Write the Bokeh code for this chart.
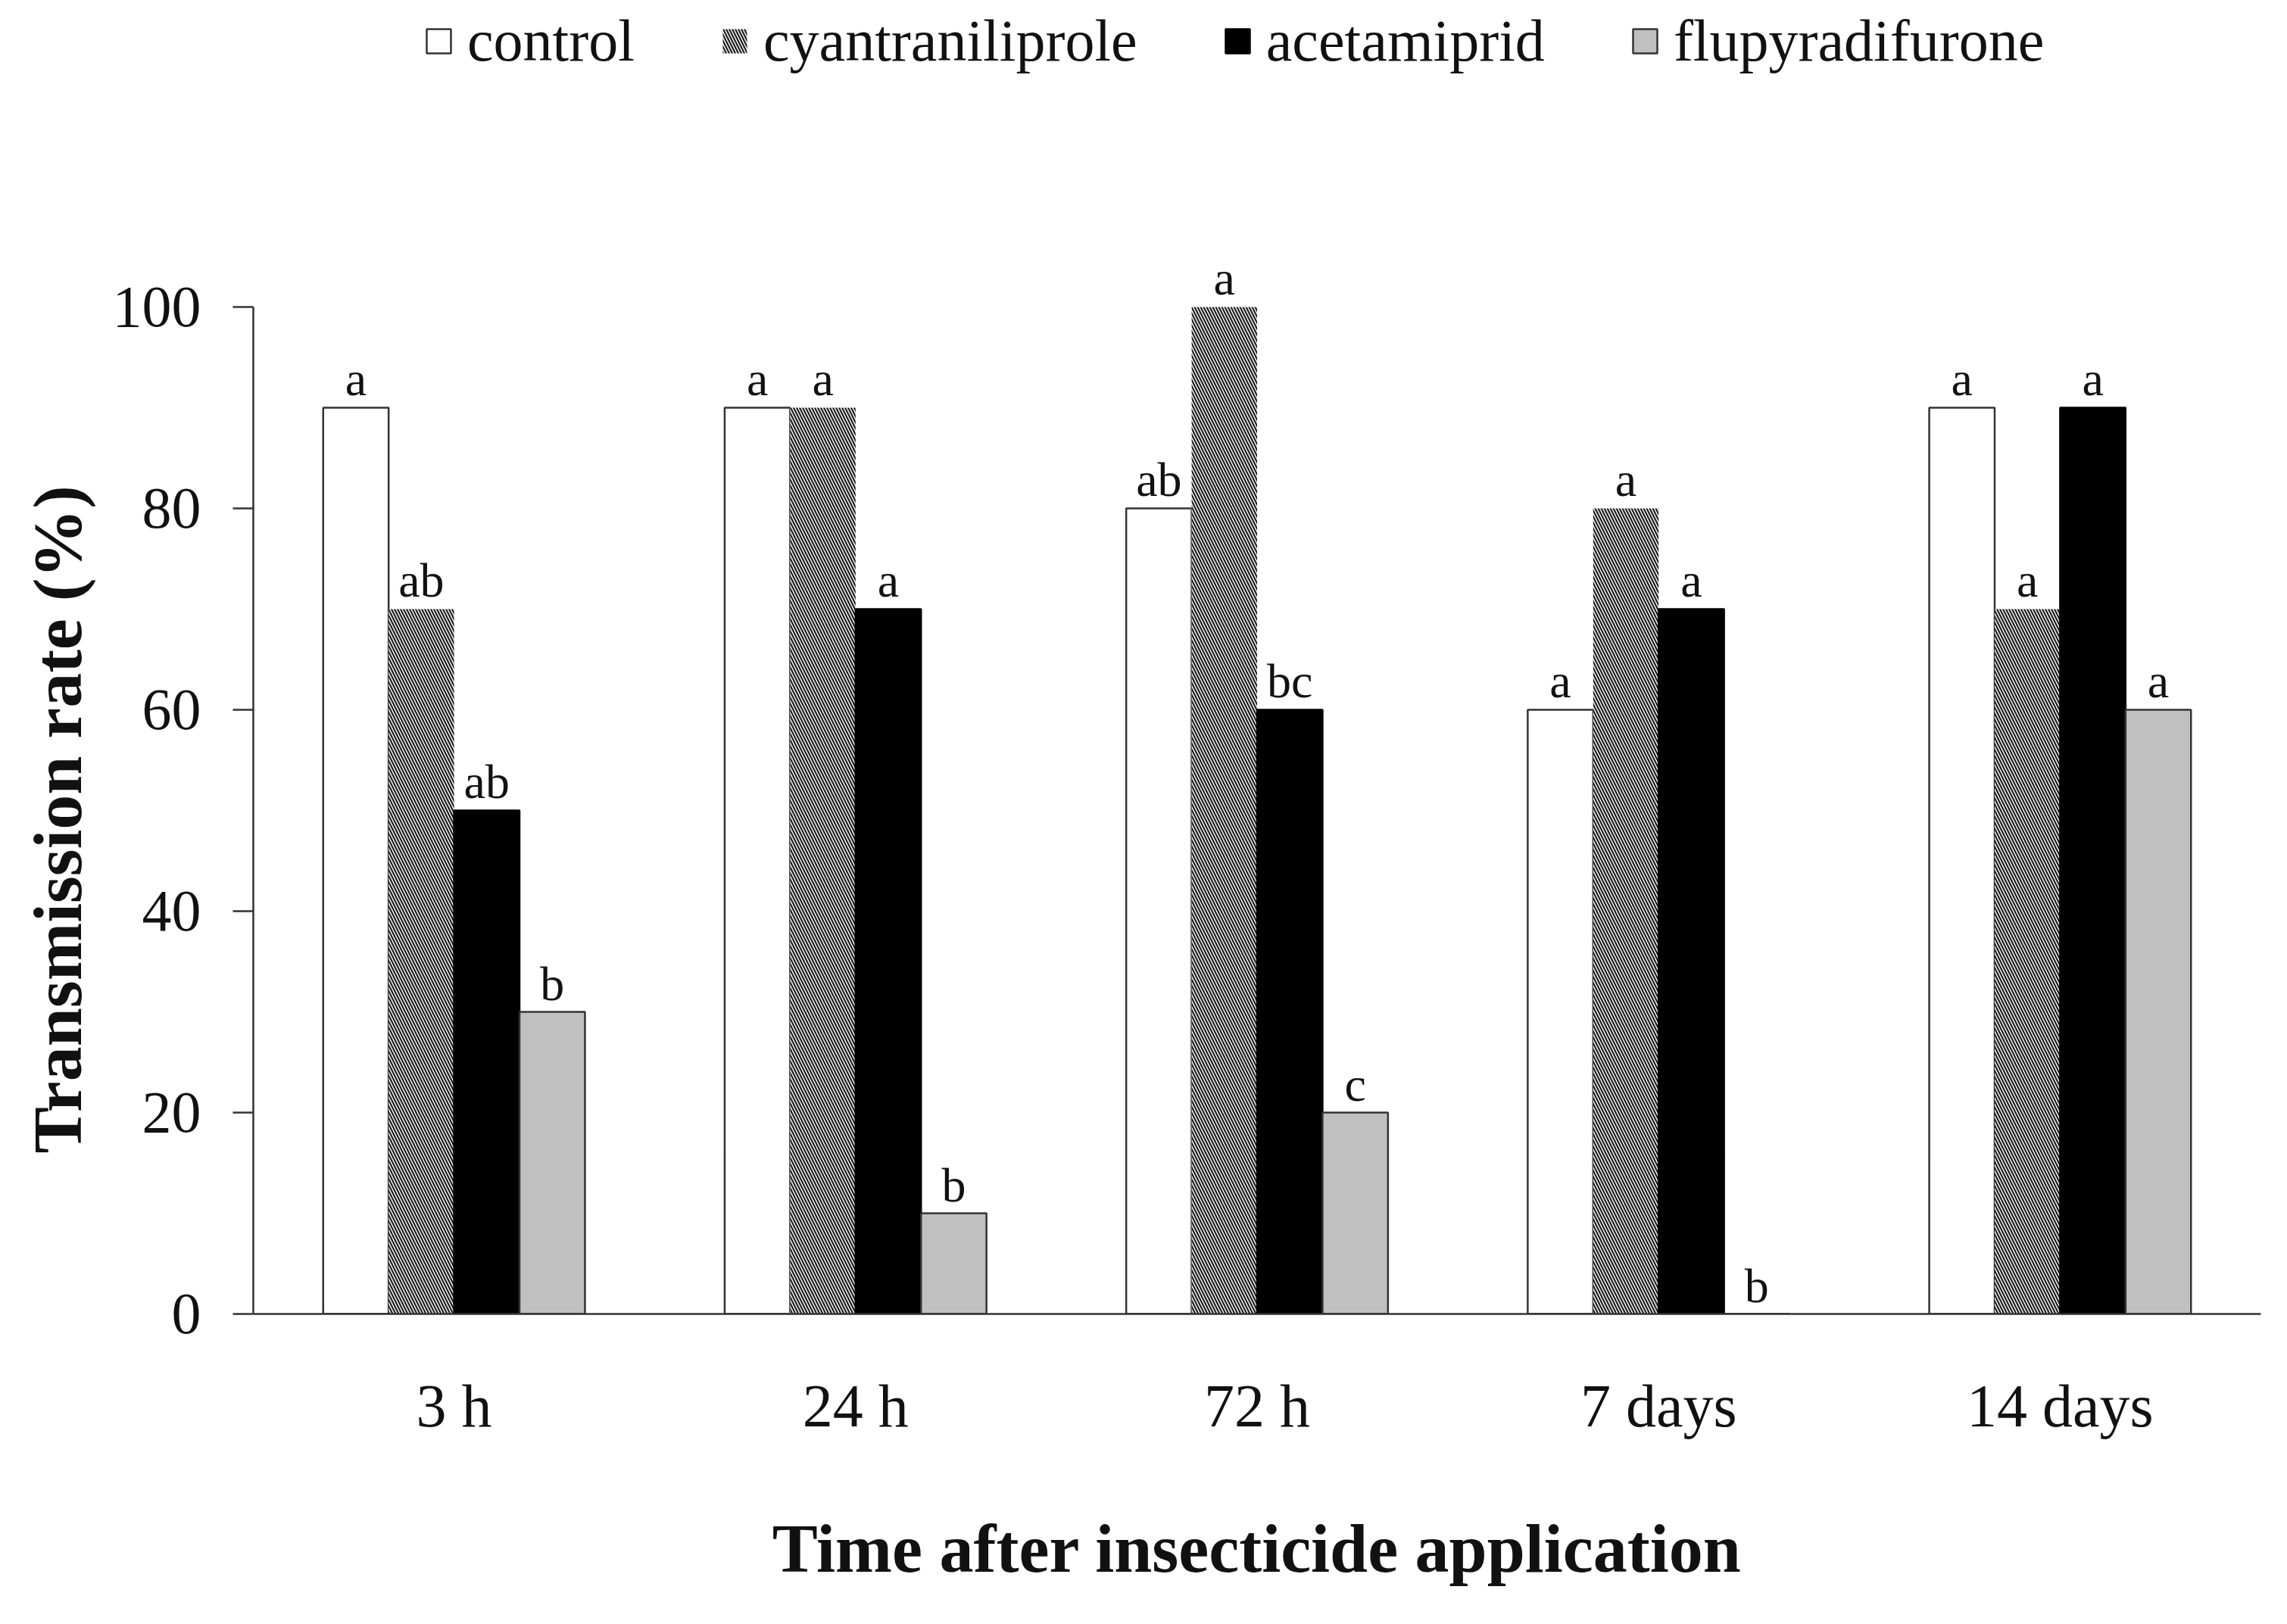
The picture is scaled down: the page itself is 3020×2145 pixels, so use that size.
from bokeh.plotting import figure
from bokeh.models import (ColumnDataSource, FactorRange, Range1d, FixedTicker,
                          Legend, LegendItem, Title)
from bokeh.transform import dodge
from bokeh.core.properties import value
from bokeh.embed import file_html
from bokeh.resources import INLINE

# ---- data ----
times = ["3 h", "24 h", "72 h", "7 days", "14 days"]
treatments = ["control", "cyantraniliprole", "acetamiprid", "flupyradifurone"]
control = [90, 90, 80, 60, 90]
cyantraniliprole = [70, 90, 100, 80, 70]
acetamiprid = [50, 70, 60, 70, 90]
flupyradifurone = [30, 10, 20, 0, 60]
letters_control = ["a", "a", "ab", "a", "a"]
letters_cyantraniliprole = ["ab", "a", "a", "a", "a"]
letters_acetamiprid = ["ab", "a", "bc", "a", "a"]
letters_flupyradifurone = ["b", "b", "c", "b", "a"]
y_ticks = [0, 20, 40, 60, 80, 100]

series = [control, cyantraniliprole, acetamiprid, flupyradifurone]
letters = [letters_control, letters_cyantraniliprole, letters_acetamiprid, letters_flupyradifurone]

FONT = "Liberation Serif"
TXT = "#111111"
AX = "#333333"

bar_w = 0.163
offsets = [-1.5 * bar_w, -0.5 * bar_w, 0.5 * bar_w, 1.5 * bar_w]

p = figure(x_range=FactorRange(factors=times), y_range=Range1d(0, 130.45),
           width=3000, height=2125, output_backend="svg", toolbar_location=None,
           min_border_left=334, min_border_right=15, min_border_top=0,
           min_border_bottom=390)
p.outline_line_color = None
p.xgrid.grid_line_color = None
p.ygrid.grid_line_color = None
p.background_fill_color = "white"
p.border_fill_color = "white"

styles = [
    dict(fill_color="white", line_color=AX),
    dict(fill_color="white", line_color=None, hatch_pattern="\\",
         hatch_color="#1e1e1e", hatch_scale=8, hatch_weight=2.2),
    dict(fill_color="black", line_color="black"),
    dict(fill_color="#c0c0c0", line_color=AX),
]

renderers = []
for name, vals, labs, off, st in zip(treatments, series, letters, offsets, styles):
    src = ColumnDataSource(dict(t=times, v=vals, lab=labs,
                                ly=[v + 0.15 for v in vals]))
    r = p.vbar(x=dodge("t", off, range=p.x_range), top="v", bottom=0,
               width=bar_w, source=src, line_width=2.5, **st)
    renderers.append((name, r))
    p.text(x=dodge("t", off, range=p.x_range), y="ly", text="lab", source=src,
           text_align="center", text_baseline="bottom",
           text_font=value(FONT), text_font_size="64px", text_color=TXT)

legend = Legend(items=[LegendItem(label=n, renderers=[r]) for n, r in renderers],
                orientation="horizontal", location=(225, 1636),
                glyph_width=40, glyph_height=40, label_standoff=18, spacing=112,
                margin=0, padding=5, border_line_color=None,
                background_fill_alpha=0,
                label_text_font=FONT, label_text_font_size="78px",
                label_text_color=TXT)
p.add_layout(legend)

# y axis
yax = p.yaxis[0]
yax.ticker = FixedTicker(ticks=y_ticks)
yax.bounds = (0, 100)
yax.axis_line_color = AX
yax.axis_line_width = 2.5
yax.major_tick_line_color = AX
yax.major_tick_line_width = 2.5
yax.major_tick_out = 27
yax.major_tick_in = 0
yax.minor_tick_line_color = None
yax.major_label_text_font = FONT
yax.major_label_text_font_size = "78px"
yax.major_label_text_color = TXT
yax.major_label_standoff = 42

# y axis title in the left panel, placed so it is centred on the 0-100 axis
ytitle = Title(text="Transmission rate (%)", align="left", offset=212,
               standoff=38, text_font=FONT, text_font_style="bold",
               text_font_size="92px", text_color=TXT)
p.add_layout(ytitle, "left")

# x axis
xax = p.xaxis[0]
xax.axis_line_color = AX
xax.axis_line_width = 2.5
xax.major_tick_line_color = None
xax.minor_tick_line_color = None
xax.major_label_text_font = FONT
xax.major_label_text_font_size = "80px"
xax.major_label_text_color = TXT
xax.major_label_standoff = 71
xax.axis_label = "Time after insecticide application"
xax.axis_label_text_font = FONT
xax.axis_label_text_font_style = "bold"
xax.axis_label_text_font_size = "90px"
xax.axis_label_text_color = TXT
xax.axis_label_standoff = 92

open("out.html", "w").write(file_html(p, INLINE))
